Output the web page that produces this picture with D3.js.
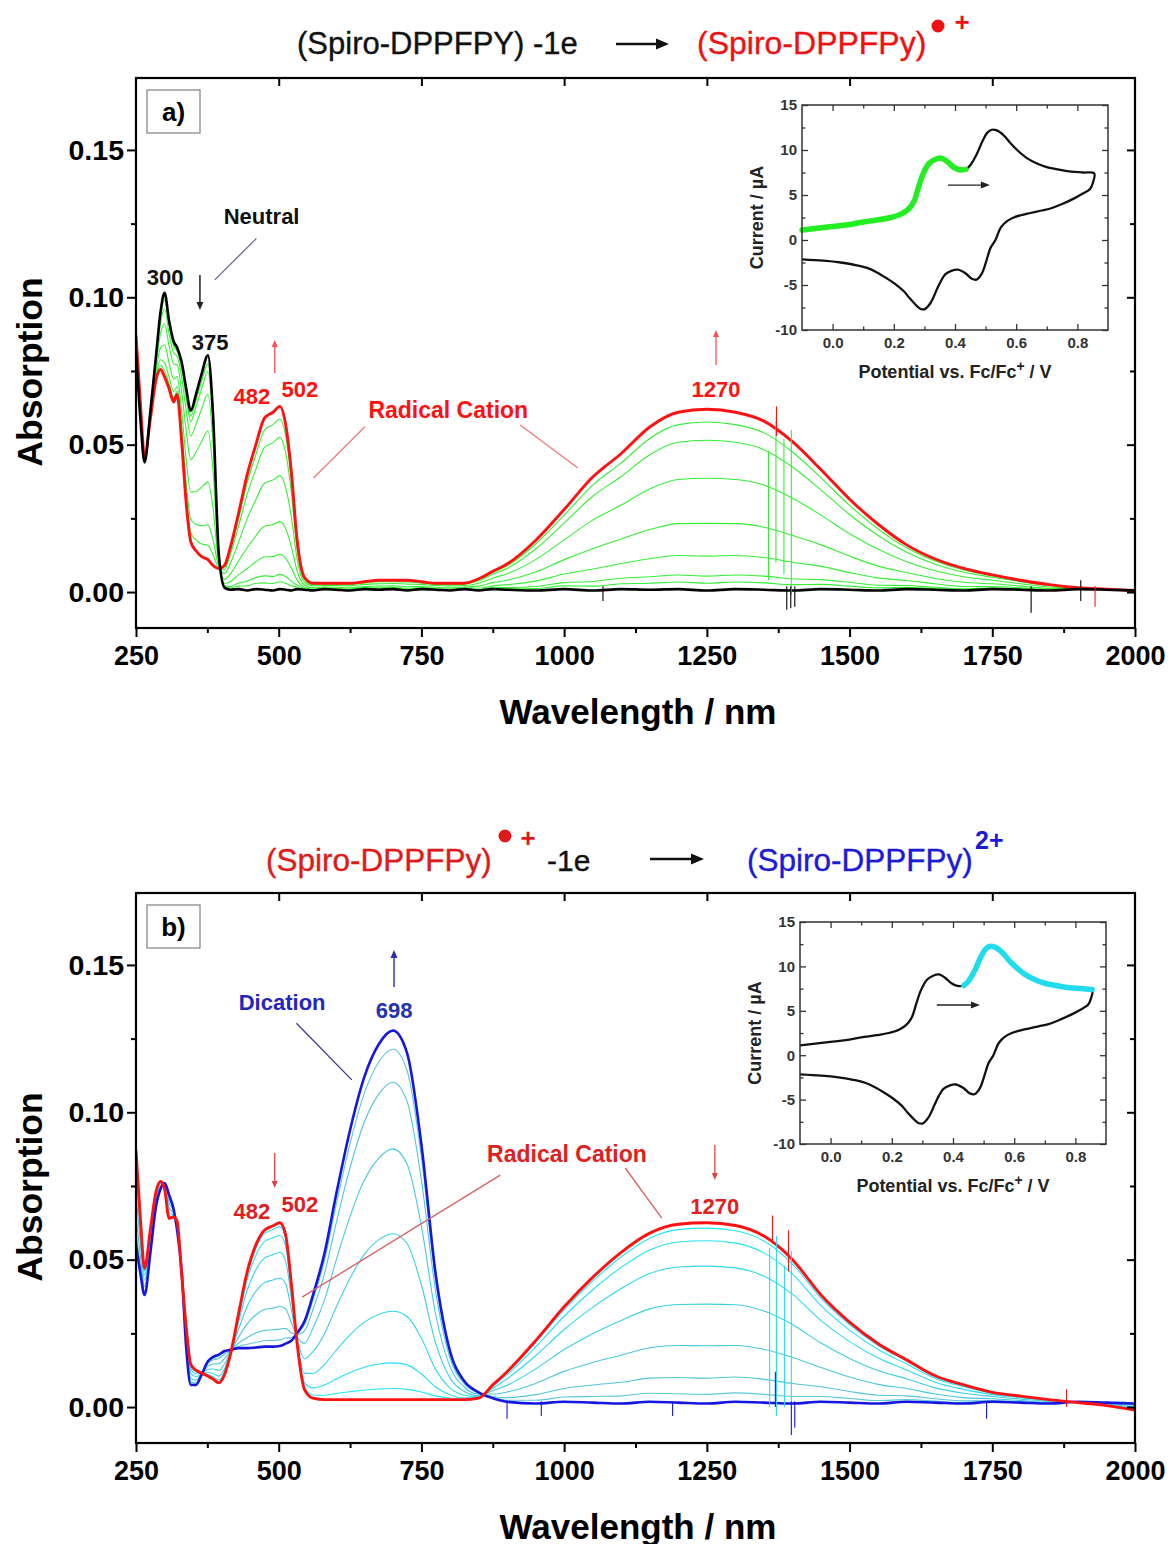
<!DOCTYPE html>
<html>
<head>
<meta charset="utf-8">
<script src="https://cdn.jsdelivr.net/npm/d3@7"></script>
<style>
  html,body{margin:0;padding:0;background:#fff;}
  svg text{font-family:"Liberation Sans",Arial,Helvetica,sans-serif;}
</style>
</head>
<body>
<svg id="chart" width="1172" height="1544" xmlns="http://www.w3.org/2000/svg"></svg>
<script>
// ---------------- DATA ----------------
const wl = [250,258,265,275,285,293,300,308,316,322,330,338,346,355,365,376,385,395,405,415,430,445,460,475,490,502,512,522,532,545,560,580,600,625,650,675,700,725,750,775,800,825,850,875,900,950,1000,1050,1100,1150,1200,1250,1300,1350,1400,1450,1500,1550,1600,1650,1700,1750,1800,1850,1900,1950,2000];

// panel a
const radicalA = [.087,.063,.046,.0585,.072,.0755,.073,.069,.0645,.067,.051,.030,.017,.014,.012,.011,.009,.008,.009,.015,.027,.040,.050,.059,.061,.063,.057,.041,.018,.005,.003,.003,.003,.003,.0035,.004,.004,.004,.0035,.003,.003,.003,.0045,.007,.0095,.0175,.028,.039,.047,.056,.061,.062,.061,.058,.051,.0415,.0315,.023,.016,.0112,.008,.0058,.004,.0025,.0015,.001,.0005];
const neutralA = [.082,.058,.044,.061,.080,.095,.1015,.092,.085,.083,.078,.069,.0615,.067,.074,.0803,.060,.013,.0015,.0008,.001,.0005,.001,.0008,.0005,.001,.0008,.0005,.001,.0008,.0005,.001,.0008,.0005,.001,.0008,.001,.0005,.001,.0008,.0005,.001,.0005,.001,.0008,.0005,.001,.0005,.001,.0008,.001,.0005,.001,.0008,.0005,.001,.0008,.0005,.001,.0008,.0005,.001,.0008,.0005,.001,.0008,.0005];
const greenA1 = [.0822,.0582,.0441,.0609,.0797,.0942,.1004,.0911,.0842,.0824,.0769,.0674,.0597,.0649,.0715,.0775,.0580,.0128,.0018,.0014,.0020,.0021,.0030,.0031,.0029,.0035,.0030,.0021,.0017,.0010,.0006,.0011,.0009,.0006,.0011,.0009,.0011,.0006,.0011,.0009,.0006,.0011,.0007,.0012,.0011,.0012,.0021,.0020,.0028,.0030,.0034,.0030,.0034,.0031,.0025,.0026,.0020,.0014,.0016,.0012,.0008,.0012,.0009,.0006,.0010,.0008,.0005];
const greenA2 = [.0824,.0584,.0442,.0608,.0794,.0934,.0992,.0902,.0834,.0817,.0758,.0659,.0579,.0628,.0690,.0748,.0559,.0126,.0021,.0019,.0031,.0037,.0049,.0055,.0053,.0060,.0053,.0037,.0024,.0011,.0007,.0012,.0010,.0007,.0012,.0011,.0012,.0008,.0012,.0010,.0007,.0012,.0008,.0015,.0015,.0019,.0032,.0036,.0047,.0052,.0058,.0054,.0058,.0054,.0045,.0042,.0033,.0023,.0022,.0016,.0011,.0014,.0011,.0007,.0010,.0008,.0005];
const greenA3 = [.0830,.0590,.0444,.0605,.0785,.0913,.0961,.0876,.0811,.0800,.0729,.0616,.0530,.0569,.0622,.0671,.0503,.0121,.0029,.0035,.0059,.0080,.0103,.0119,.0120,.0128,.0115,.0082,.0042,.0016,.0010,.0014,.0012,.0010,.0015,.0014,.0016,.0012,.0015,.0012,.0010,.0014,.0013,.0021,.0025,.0037,.0061,.0078,.0097,.0113,.0124,.0122,.0124,.0117,.0101,.0087,.0066,.0048,.0039,.0028,.0019,.0019,.0014,.0009,.0011,.0008,.0005];
const greenA4 = [.0839,.0599,.0447,.0601,.0770,.0878,.0910,.0835,.0774,.0771,.0680,.0546,.0450,.0474,.0511,.0547,.0411,.0112,.0043,.0061,.0106,.0151,.0191,.0223,.0229,.0239,.0216,.0155,.0073,.0024,.0014,.0017,.0016,.0014,.0019,.0020,.0021,.0018,.0019,.0016,.0014,.0017,.0020,.0032,.0040,.0068,.0110,.0147,.0180,.0212,.0232,.0233,.0232,.0220,.0192,.0160,.0122,.0088,.0066,.0046,.0033,.0028,.0020,.0012,.0012,.0009,.0005];
const greenA5 = [.0851,.0611,.0452,.0595,.0750,.0829,.0838,.0777,.0723,.0731,.0613,.0448,.0339,.0341,.0356,.0373,.0284,.0099,.0062,.0096,.0171,.0250,.0314,.0369,.0380,.0394,.0356,.0256,.0115,.0034,.0021,.0022,.0022,.0021,.0026,.0028,.0029,.0027,.0026,.0022,.0021,.0022,.0030,.0047,.0062,.0110,.0177,.0244,.0295,.0350,.0382,.0386,.0382,.0363,.0318,.0261,.0198,.0145,.0103,.0072,.0052,.0040,.0028,.0017,.0013,.0009,.0005];
const greenA6 = [.0862,.0622,.0457,.0589,.0734,.0788,.0778,.0729,.0680,.0697,.0556,.0366,.0246,.0230,.0225,.0228,.0177,.0089,.0077,.0126,.0226,.0333,.0417,.0491,.0507,.0525,.0474,.0341,.0151,.0043,.0026,.0027,.0026,.0026,.0031,.0035,.0035,.0034,.0031,.0026,.0026,.0027,.0038,.0060,.0080,.0146,.0234,.0325,.0392,.0466,.0508,.0515,.0508,.0483,.0424,.0346,.0263,.0192,.0135,.0094,.0067,.0050,.0035,.0022,.0014,.0010,.0005];
const greenA7 = [.0867,.0627,.0459,.0587,.0726,.0769,.0750,.0706,.0659,.0681,.0529,.0327,.0201,.0177,.0163,.0159,.0126,.0084,.0085,.0140,.0252,.0372,.0466,.0549,.0568,.0587,.0531,.0382,.0168,.0047,.0028,.0029,.0028,.0028,.0033,.0038,.0038,.0038,.0033,.0028,.0028,.0029,.0042,.0066,.0089,.0163,.0261,.0363,.0438,.0521,.0568,.0577,.0568,.0540,.0475,.0387,.0294,.0214,.0150,.0105,.0075,.0055,.0038,.0024,.0015,.0010,.0005];

// panel b
const radicalB = [.087,.063,.047,.060,.073,.0765,.074,.064,.0645,.063,.045,.027,.0145,.0125,.0115,.0105,.0095,.0082,.011,.0175,.032,.046,.055,.060,.0615,.0625,.0585,.042,.022,.006,.003,.0025,.0025,.0025,.0025,.0025,.0025,.0025,.0025,.0025,.0025,.0025,.003,.0075,.012,.0225,.034,.044,.0525,.059,.062,.0625,.0616,.058,.050,.038,.0288,.0215,.016,.0106,.0075,.005,.0037,.0025,.0015,.0005,-.001];
const dicationB = [.055,.045,.038,.052,.068,.074,.076,.072,.067,.060,.046,.020,.0075,.0075,.011,.0155,.017,.0178,.019,.0194,.020,.020,.0202,.0205,.0205,.0207,.0215,.0225,.025,.029,.038,.052,.0715,.094,.112,.123,.1277,.120,.089,.045,.019,.0088,.005,.003,.0018,.0012,.0018,.0015,.0012,.0018,.0015,.0012,.0018,.0015,.0012,.0018,.0015,.0012,.0018,.0015,.0012,.0018,.0015,.0012,.0018,.0015,.0012];
const cyanB1 = [.0860,.0625,.0467,.0598,.0729,.0764,.0741,.0642,.0646,.0629,.0450,.0268,.0143,.0124,.0115,.0107,.0097,.0085,.0112,.0176,.0316,.0452,.0540,.0588,.0603,.0612,.0574,.0414,.0221,.0067,.0041,.0040,.0046,.0052,.0058,.0061,.0063,.0060,.0051,.0038,.0030,.0027,.0031,.0074,.0117,.0219,.0330,.0427,.0510,.0573,.0602,.0607,.0598,.0563,.0485,.0369,.0280,.0209,.0156,.0103,.0073,.0049,.0036,.0025,.0015,.0005,-.0009];
const cyanB2 = [.0838,.0612,.0461,.0592,.0725,.0763,.0742,.0648,.0648,.0627,.0451,.0263,.0138,.0120,.0115,.0110,.0103,.0092,.0118,.0177,.0308,.0434,.0515,.0561,.0574,.0583,.0548,.0401,.0223,.0083,.0065,.0075,.0094,.0117,.0135,.0146,.0150,.0143,.0112,.0068,.0042,.0031,.0032,.0071,.0110,.0204,.0308,.0398,.0474,.0533,.0560,.0564,.0556,.0523,.0451,.0344,.0261,.0195,.0146,.0097,.0069,.0047,.0035,.0024,.0015,.0006,-.0008];
const cyanB3 = [.0793,.0587,.0448,.0581,.0718,.0759,.0745,.0659,.0651,.0623,.0452,.0253,.0128,.0113,.0114,.0117,.0113,.0105,.0129,.0180,.0291,.0398,.0466,.0505,.0517,.0525,.0496,.0373,.0227,.0115,.0114,.0144,.0191,.0245,.0288,.0314,.0325,.0307,.0233,.0127,.0065,.0040,.0035,.0064,.0096,.0174,.0263,.0338,.0402,.0453,.0475,.0478,.0472,.0444,.0383,.0293,.0222,.0166,.0126,.0084,.0060,.0042,.0032,.0022,.0016,.0007,-.0005];
const cyanB4 = [.0726,.0549,.0430,.0564,.0708,.0754,.0749,.0676,.0656,.0617,.0455,.0239,.0114,.0103,.0113,.0128,.0129,.0125,.0146,.0184,.0266,.0343,.0393,.0422,.0431,.0437,.0419,.0332,.0234,.0164,.0188,.0248,.0336,.0437,.0518,.0567,.0588,.0554,.0414,.0216,.0099,.0053,.0039,.0055,.0074,.0129,.0195,.0249,.0294,.0333,.0348,.0349,.0347,.0326,.0280,.0217,.0165,.0124,.0096,.0065,.0047,.0036,.0027,.0019,.0016,.0010,.0000];
const cyanB5 = [.0652,.0508,.0409,.0546,.0696,.0748,.0754,.0694,.0662,.0610,.0457,.0222,.0097,.0091,.0112,.0139,.0146,.0147,.0164,.0188,.0238,.0283,.0313,.0331,.0336,.0341,.0333,.0287,.0240,.0216,.0268,.0362,.0494,.0647,.0770,.0844,.0876,.0824,.0613,.0314,.0137,.0068,.0044,.0044,.0051,.0080,.0121,.0151,.0176,.0201,.0209,.0208,.0209,.0196,.0168,.0134,.0102,.0077,.0063,.0044,.0032,.0028,.0022,.0016,.0017,.0012,.0005];
const cyanB6 = [.0595,.0475,.0393,.0531,.0687,.0744,.0757,.0709,.0667,.0604,.0459,.0210,.0085,.0082,.0111,.0148,.0160,.0165,.0179,.0191,.0217,.0236,.0251,.0260,.0262,.0265,.0267,.0252,.0246,.0258,.0331,.0451,.0618,.0812,.0967,.1061,.1102,.1036,.0769,.0391,.0167,.0079,.0047,.0036,.0032,.0042,.0063,.0075,.0084,.0098,.0100,.0098,.0102,.0094,.0080,.0069,.0053,.0040,.0038,.0028,.0021,.0022,.0018,.0014,.0018,.0014,.0009];
const cyanB7 = [.0566,.0459,.0385,.0524,.0683,.0741,.0759,.0716,.0669,.0602,.0460,.0204,.0079,.0078,.0110,.0153,.0166,.0173,.0186,.0193,.0206,.0213,.0219,.0225,.0226,.0228,.0234,.0235,.0249,.0279,.0363,.0495,.0681,.0894,.1065,.1170,.1214,.1141,.0847,.0429,.0182,.0085,.0049,.0032,.0023,.0023,.0034,.0036,.0038,.0047,.0045,.0043,.0048,.0043,.0036,.0036,.0029,.0022,.0025,.0020,.0015,.0020,.0016,.0013,.0018,.0015,.0011];

// narrow noise spikes (wavelength, low, high)
const spikesA = [
  {wl:1068, lo:-0.003, hi:0.002, s:'black'},
  {wl:1358, lo:0.004, hi:0.048, s:'green'},
  {wl:1371, lo:0.010, hi:0.058, s:'green'},
  {wl:1385, lo:0.006, hi:0.052, s:'green'},
  {wl:1398, lo:-0.001, hi:0.055, s:'green'},
  {wl:1372, lo:0.053, hi:0.063, s:'red'},
  {wl:1390, lo:-0.006, hi:0.002, s:'black'},
  {wl:1397, lo:-0.0055, hi:0.002, s:'black'},
  {wl:1404, lo:-0.005, hi:0.002, s:'black'},
  {wl:1818, lo:-0.007, hi:0.002, s:'black'},
  {wl:1905, lo:-0.003, hi:0.004, s:'black'},
  {wl:1930, lo:-0.005, hi:0.002, s:'red'}
];
const spikesB = [
  {wl:900, lo:-0.004, hi:0.002, s:'blue'},
  {wl:960, lo:-0.003, hi:0.002, s:'blue'},
  {wl:1190, lo:-0.003, hi:0.002, s:'blue'},
  {wl:1360, lo:0.000, hi:0.054, s:'cyan'},
  {wl:1372, lo:-0.003, hi:0.058, s:'cyan'},
  {wl:1386, lo:0.000, hi:0.048, s:'cyan'},
  {wl:1398, lo:0.002, hi:0.053, s:'cyan'},
  {wl:1370, lo:0.000, hi:0.012, s:'blue'},
  {wl:1398, lo:-0.0095, hi:0.002, s:'blue'},
  {wl:1404, lo:-0.007, hi:0.002, s:'blue'},
  {wl:1740, lo:-0.004, hi:0.002, s:'blue'},
  {wl:1365, lo:0.056, hi:0.065, s:'red'},
  {wl:1393, lo:0.046, hi:0.060, s:'red'},
  {wl:1880, lo:0.000, hi:0.006, s:'red'}
];

const xTicksMajor = [250,500,750,1000,1250,1500,1750,2000];
const xTicksMinor = [375,625,875,1125,1375,1625,1875];
const yTicksMajor = [0,0.05,0.10,0.15];
const yTicksMinor = [0.025,0.075,0.125];

// cyclic voltammogram (inset): forward and reverse scans
const cvFwdV = [-0.1,-0.05,0.0,0.05,0.10,0.15,0.19,0.225,0.25,0.266,0.28,0.295,0.315,0.335,0.355,0.375,0.395,0.415,0.435,0.45,0.472,0.49,0.505,0.52,0.535,0.56,0.58,0.603,0.635,0.668,0.70,0.744,0.78,0.82,0.855];
const cvFwdI = [1.1,1.3,1.5,1.7,2.0,2.25,2.5,2.9,3.5,4.3,5.8,7.3,8.5,8.95,9.1,8.7,8.1,7.8,7.85,8.3,9.6,11.0,11.9,12.25,12.2,11.6,10.8,10.0,9.1,8.5,8.1,7.8,7.6,7.5,7.4];
const cvRevV = [0.855,0.85,0.842,0.815,0.788,0.75,0.712,0.68,0.647,0.615,0.592,0.57,0.55,0.532,0.516,0.50,0.488,0.47,0.455,0.434,0.41,0.39,0.369,0.355,0.342,0.32,0.30,0.285,0.266,0.25,0.233,0.205,0.179,0.145,0.113,0.07,0.026,-0.03,-0.1];
const cvRevI = [7.4,6.3,5.7,5.1,4.6,4.0,3.5,3.25,3.0,2.75,2.5,2.1,1.4,0.0,-0.9,-2.6,-3.7,-4.4,-4.3,-3.7,-3.3,-3.4,-3.8,-4.5,-5.4,-7.0,-7.7,-7.6,-7.0,-6.4,-5.7,-4.9,-4.3,-3.6,-3.1,-2.75,-2.5,-2.3,-2.15];
const cvXTicks = [0,0.2,0.4,0.6,0.8];
const cvXMinor = [0.1,0.3,0.5,0.7];
const cvYTicks = [-10,-5,0,5,10,15];
const cvYMinor = [-7.5,-2.5,2.5,7.5,12.5];

// ---------------- DRAWING ----------------
const FONT = '"Liberation Sans", Arial, Helvetica, sans-serif';
const svg = d3.select('#chart');
svg.append('rect').attr('width',1172).attr('height',1544).attr('fill','#fff');
const defs = svg.append('defs');
const X0 = 136, X1 = 1135, PH = 550;
const x = d3.scaleLinear().domain([250, 2000]).range([X0, X1]);
const yDom = [-0.0122, 0.1744];
const makeY = top => d3.scaleLinear().domain(yDom).range([top + PH, top]);
const pairs = vals => wl.map((w, i) => [w, vals[i]]);

function arrowTo(g, x1, y1, x2, y2, color, sw, hl, hw) {
  const ang = Math.atan2(y2 - y1, x2 - x1);
  const bx = x2 - hl * Math.cos(ang), by = y2 - hl * Math.sin(ang);
  g.append('line').attr('x1', x1).attr('y1', y1).attr('x2', bx).attr('y2', by)
    .attr('stroke', color).attr('stroke-width', sw);
  const px = -Math.sin(ang) * hw, py = Math.cos(ang) * hw;
  g.append('path').attr('d', `M${x2},${y2}L${bx + px},${by + py}L${bx - px},${by - py}Z`).attr('fill', color);
}
function label(g, x0, y0, s, color, size, weight, anchor) {
  return g.append('text').attr('x', x0).attr('y', y0).attr('fill', color)
    .attr('font-size', size).attr('font-weight', weight || 'bold')
    .attr('text-anchor', anchor || 'middle').attr('dominant-baseline', 'central').text(s);
}
function styleAxis(sel, fs) {
  sel.attr('font-family', FONT).attr('font-weight', 'bold').attr('font-size', fs);
  sel.select('.domain').remove();
  sel.selectAll('.tick line').attr('stroke', '#000').attr('stroke-width', 2);
  sel.selectAll('.tick text').attr('fill', '#000');
}
const noText = () => '';

function drawPanel(cfg) {
  const top = cfg.top, bottom = top + PH;
  const y = makeY(top);
  const g = svg.append('g');
  const clipId = 'clip' + cfg.id;
  defs.append('clipPath').attr('id', clipId).append('rect')
    .attr('x', X0).attr('y', top).attr('width', X1 - X0).attr('height', PH);
  const line = d3.line().x(d => x(d[0])).y(d => y(d[1])).curve(d3.curveMonotoneX);
  const plot = g.append('g').attr('clip-path', `url(#${clipId})`);
  cfg.series.forEach(s => {
    plot.append('path').datum(pairs(s.values)).attr('d', line)
      .attr('fill', 'none').attr('stroke', s.color).attr('stroke-width', s.width)
      .attr('stroke-linejoin', 'round');
  });
  plot.selectAll('line.spike').data(cfg.spikes).enter().append('line').attr('class', 'spike')
    .attr('x1', d => x(d.wl)).attr('x2', d => x(d.wl))
    .attr('y1', d => y(d.lo)).attr('y2', d => y(d.hi))
    .attr('stroke', d => cfg.spikeColors[d.s]).attr('stroke-width', 1.1);

  // axes
  g.append('g').attr('transform', `translate(0,${bottom})`)
    .call(d3.axisBottom(x).tickValues(xTicksMajor).tickSize(9).tickPadding(9).tickFormat(d3.format('d')))
    .call(styleAxis, 27);
  g.append('g').attr('transform', `translate(0,${bottom})`)
    .call(d3.axisBottom(x).tickValues(xTicksMinor).tickSize(5).tickFormat(noText)).call(styleAxis, 10);
  g.append('g').attr('transform', `translate(${X0},0)`)
    .call(d3.axisLeft(y).tickValues(yTicksMajor).tickSize(9).tickPadding(3).tickFormat(d3.format('.2f')))
    .call(styleAxis, 28.5);
  g.append('g').attr('transform', `translate(${X0},0)`)
    .call(d3.axisLeft(y).tickValues(yTicksMinor).tickSize(5).tickFormat(noText)).call(styleAxis, 10);
  g.append('g').attr('transform', `translate(${X1},0)`)
    .call(d3.axisLeft(y).tickValues(yTicksMajor).tickSize(8).tickFormat(noText)).call(styleAxis, 10);
  g.append('g').attr('transform', `translate(${X1},0)`)
    .call(d3.axisLeft(y).tickValues(yTicksMinor).tickSize(5).tickFormat(noText)).call(styleAxis, 10);
  g.append('g').attr('transform', `translate(0,${top})`)
    .call(d3.axisBottom(x).tickValues(xTicksMajor.slice(1, -1)).tickSize(8).tickFormat(noText)).call(styleAxis, 10);
  g.append('rect').attr('x', X0).attr('y', top).attr('width', X1 - X0).attr('height', PH)
    .attr('fill', 'none').attr('stroke', '#000').attr('stroke-width', 2.2);

  // axis titles
  g.append('text').attr('transform', `translate(30,${top + 294}) rotate(-90)`)
    .attr('text-anchor', 'middle').attr('dominant-baseline', 'central')
    .attr('font-size', 35.5).attr('font-weight', 'bold').attr('fill', '#000').text('Absorption');
  label(g, 638, bottom + 83, 'Wavelength / nm', '#000', 35);

  // panel letter
  g.append('rect').attr('x', 147).attr('y', top + 12).attr('width', 53).attr('height', 43)
    .attr('fill', '#fff').attr('stroke', '#8a8a8a').attr('stroke-width', 1.3);
  label(g, 173.5, top + 34, cfg.letter, '#000', 26);

  cfg.annotate(g, y);
  return {g, y};
}

function drawInset(cfg) {
  const g = svg.append('g');
  const xi = d3.scaleLinear().domain([-0.1, 0.9]).range([cfg.left, cfg.left + cfg.w]);
  const yi = d3.scaleLinear().domain([-10, 15]).range([cfg.top + cfg.h, cfg.top]);
  g.append('rect').attr('x', cfg.left).attr('y', cfg.top).attr('width', cfg.w).attr('height', cfg.h).attr('fill', '#fff');
  const ln = d3.line().x(d => xi(d[0])).y(d => yi(d[1])).curve(d3.curveCatmullRom.alpha(0.5));
  const fwd = cvFwdV.map((v, i) => [v, cvFwdI[i]]);
  const rev = cvRevV.map((v, i) => [v, cvRevI[i]]);
  g.append('path').datum(fwd.concat(rev.slice(1))).attr('d', ln).attr('fill', 'none')
    .attr('stroke', '#111').attr('stroke-width', 2.3).attr('stroke-linejoin', 'round');
  g.append('path').datum(fwd.filter(cfg.highlight)).attr('d', ln).attr('fill', 'none')
    .attr('stroke', cfg.hColor).attr('stroke-width', 5.5).attr('stroke-linecap', 'round');
  const st = (sel, fs) => {
    sel.attr('font-family', FONT).attr('font-weight', 'bold').attr('font-size', fs);
    sel.select('.domain').remove();
    sel.selectAll('.tick line').attr('stroke', '#333').attr('stroke-width', 1.3);
    sel.selectAll('.tick text').attr('fill', '#333');
  };
  const B = cfg.top + cfg.h, R = cfg.left + cfg.w;
  g.append('g').attr('transform', `translate(0,${B})`)
    .call(d3.axisBottom(xi).tickValues(cvXTicks).tickSize(-6).tickPadding(7).tickFormat(d3.format('.1f'))).call(st, 15);
  g.append('g').attr('transform', `translate(0,${B})`)
    .call(d3.axisBottom(xi).tickValues(cvXMinor).tickSize(-3.5).tickFormat(noText)).call(st, 10);
  g.append('g').attr('transform', `translate(0,${cfg.top})`)
    .call(d3.axisTop(xi).tickValues(cvXTicks).tickSize(-6).tickFormat(noText)).call(st, 10);
  g.append('g').attr('transform', `translate(0,${cfg.top})`)
    .call(d3.axisTop(xi).tickValues(cvXMinor).tickSize(-3.5).tickFormat(noText)).call(st, 10);
  g.append('g').attr('transform', `translate(${cfg.left},0)`)
    .call(d3.axisLeft(yi).tickValues(cvYTicks).tickSize(-6).tickPadding(5).tickFormat(d => String(d))).call(st, 15);
  g.append('g').attr('transform', `translate(${cfg.left},0)`)
    .call(d3.axisLeft(yi).tickValues(cvYMinor).tickSize(-3.5).tickFormat(noText)).call(st, 10);
  g.append('g').attr('transform', `translate(${R},0)`)
    .call(d3.axisRight(yi).tickValues(cvYTicks).tickSize(-6).tickFormat(noText)).call(st, 10);
  g.append('g').attr('transform', `translate(${R},0)`)
    .call(d3.axisRight(yi).tickValues(cvYMinor).tickSize(-3.5).tickFormat(noText)).call(st, 10);
  g.append('rect').attr('x', cfg.left).attr('y', cfg.top).attr('width', cfg.w).attr('height', cfg.h)
    .attr('fill', 'none').attr('stroke', '#333').attr('stroke-width', 1.5);
  arrowTo(g, xi(cfg.arrow[0]), yi(cfg.arrow[2]), xi(cfg.arrow[1]), yi(cfg.arrow[2]), '#222', 1.4, 9, 3.5);
  g.append('text').attr('transform', `translate(${cfg.left - 45},${cfg.top + cfg.h / 2}) rotate(-90)`)
    .attr('text-anchor', 'middle').attr('dominant-baseline', 'central')
    .attr('font-size', 18).attr('font-weight', 'bold').attr('fill', '#222').text('Current / µA');
  const t = g.append('text').attr('x', cfg.left + cfg.w / 2).attr('y', B + 48)
    .attr('text-anchor', 'middle').attr('font-size', 18).attr('font-weight', 'bold').attr('fill', '#222');
  t.append('tspan').text('Potential vs. Fc/Fc');
  t.append('tspan').attr('dy', -7).attr('font-size', 14).text('+');
  t.append('tspan').attr('dy', 7).text(' / V');
}

const RED = '#ff1111', GREEN = '#35ef35', BLUE = '#1616e0';
const CYANS = ['#20e6ff', '#26e0f6', '#30d8ee', '#3ccfe4', '#48c8de', '#52c4da', '#5cc6de'];

// ---------- Panel a ----------
drawPanel({
  id: 'A', top: 78, letter: 'a)',
  series: [
    {values: greenA1, color: GREEN, width: 1.1},
    {values: greenA2, color: GREEN, width: 1.1},
    {values: greenA3, color: GREEN, width: 1.1},
    {values: greenA4, color: GREEN, width: 1.1},
    {values: greenA5, color: GREEN, width: 1.1},
    {values: greenA6, color: GREEN, width: 1.1},
    {values: greenA7, color: GREEN, width: 1.1},
    {values: radicalA, color: RED, width: 2.9},
    {values: neutralA, color: '#000', width: 2.6}
  ],
  spikes: spikesA,
  spikeColors: {green: GREEN, black: '#000', red: RED},
  annotate: (g, y) => {
    label(g, x(470), y(0.1273), 'Neutral', '#111', 22);
    g.append('line').attr('x1', x(461)).attr('y1', y(0.1200)).attr('x2', x(388)).attr('y2', y(0.1059))
      .attr('stroke', '#6a6a88').attr('stroke-width', 1.3);
    label(g, x(301), y(0.1066), '300', '#111', 22);
    arrowTo(g, x(362), y(0.1076), x(362), y(0.0957), '#222', 1.5, 8, 3.5);
    label(g, x(380), y(0.0848), '375', '#111', 22);
    arrowTo(g, x(493), y(0.0743), x(493), y(0.0855), '#ff5050', 1.3, 7, 3);
    label(g, x(453), y(0.0662), '482', RED, 22);
    label(g, x(537), y(0.0686), '502', RED, 22);
    label(g, x(797), y(0.0618), 'Radical Cation', RED, 23);
    g.append('line').attr('x1', x(651)).attr('y1', y(0.0561)).attr('x2', x(561)).attr('y2', y(0.0387))
      .attr('stroke', '#f07a7a').attr('stroke-width', 1.3);
    g.append('line').attr('x1', x(923)).attr('y1', y(0.0567)).attr('x2', x(1024)).attr('y2', y(0.0421))
      .attr('stroke', '#f07a7a').attr('stroke-width', 1.3);
    label(g, x(1266), y(0.0686), '1270', RED, 22);
    arrowTo(g, x(1266), y(0.0770), x(1266), y(0.0889), '#ff5050', 1.3, 7, 3);
  }
});

// ---------- Panel b ----------
drawPanel({
  id: 'B', top: 893, letter: 'b)',
  series: [
    {values: cyanB1, color: CYANS[0], width: 1.1},
    {values: cyanB2, color: CYANS[1], width: 1.1},
    {values: cyanB3, color: CYANS[2], width: 1.1},
    {values: cyanB4, color: CYANS[3], width: 1.1},
    {values: cyanB5, color: CYANS[4], width: 1.1},
    {values: cyanB6, color: CYANS[5], width: 1.1},
    {values: cyanB7, color: CYANS[6], width: 1.1},
    {values: dicationB, color: BLUE, width: 2.6},
    {values: radicalB, color: RED, width: 2.9}
  ],
  spikes: spikesB,
  spikeColors: {cyan: '#30dcf0', blue: BLUE, red: RED},
  annotate: (g, y) => {
    label(g, x(506), y(0.1374), 'Dication', '#2424c0', 22);
    g.append('line').attr('x1', x(531)).attr('y1', y(0.1302)).attr('x2', x(628)).attr('y2', y(0.1110))
      .attr('stroke', '#3c3c92').attr('stroke-width', 1.3);
    label(g, x(702), y(0.1347), '698', '#2433b0', 22);
    arrowTo(g, x(702), y(0.1425), x(702), y(0.1551), '#2a2ab0', 1.4, 8, 3.5);
    arrowTo(g, x(493), y(0.0862), x(493), y(0.0743), '#e04040', 1.3, 7, 3);
    label(g, x(453), y(0.0662), '482', '#e02020', 22);
    label(g, x(537), y(0.0686), '502', '#e02020', 22);
    label(g, x(1005), y(0.0859), 'Radical Cation', '#e02020', 23);
    g.append('line').attr('x1', x(888)).attr('y1', y(0.0787)).attr('x2', x(541)).attr('y2', y(0.0373))
      .attr('stroke', '#d86060').attr('stroke-width', 1.3);
    g.append('line').attr('x1', x(1107)).attr('y1', y(0.0811)).attr('x2', x(1171)).attr('y2', y(0.0641))
      .attr('stroke', '#d86060').attr('stroke-width', 1.3);
    label(g, x(1264), y(0.0682), '1270', '#e02020', 22);
    arrowTo(g, x(1264), y(0.0889), x(1264), y(0.0770), '#e04040', 1.3, 7, 3);
  }
});

// ---------- Insets ----------
drawInset({left: 802, top: 105, w: 306, h: 225, hColor: '#22ee22',
  highlight: d => d[0] <= 0.44, arrow: [0.377, 0.514, 6.1]});
drawInset({left: 800, top: 922, w: 306, h: 222, hColor: '#22dcee',
  highlight: d => d[0] >= 0.43, arrow: [0.347, 0.488, 5.65]});

// ---------- Titles ----------
const T = svg.append('g').attr('font-family', FONT);
function title(x0, y0, s, color, size) {
  return T.append('text').attr('x', x0).attr('y', y0).attr('font-size', size)
    .attr('fill', color).attr('stroke', color).attr('stroke-width', 0.35).text(s);
}
title(297, 54, '(Spiro-DPPFPY) -1e', '#111', 31);
arrowTo(T, 616, 44, 669, 44, '#111', 2.5, 13, 5.5);
title(697, 54, '(Spiro-DPPFPy)', '#ee1111', 32);
T.append('circle').attr('cx', 938).attr('cy', 26).attr('r', 6.5).attr('fill', '#ee1111');
T.append('text').attr('x', 962).attr('y', 31).attr('text-anchor', 'middle').attr('font-size', 26).attr('font-weight', 'bold').attr('fill', '#ee1111').text('+');

title(266, 871, '(Spiro-DPPFPy)', '#e01a1a', 31.5);
T.append('circle').attr('cx', 505).attr('cy', 836).attr('r', 6.5).attr('fill', '#e01a1a');
T.append('text').attr('x', 528).attr('y', 847).attr('text-anchor', 'middle').attr('font-size', 26).attr('font-weight', 'bold').attr('fill', '#e01a1a').text('+');
title(547, 871, '-1e', '#111', 30);
arrowTo(T, 650, 859, 704, 859, '#111', 2.5, 13, 5.5);
title(747, 871, '(Spiro-DPPFPy)', '#1a1ad8', 31.5);
T.append('text').attr('x', 975).attr('y', 849).attr('font-size', 25).attr('font-weight', 'bold').attr('fill', '#1a1ad8').text('2+');
</script>
</body>
</html>
